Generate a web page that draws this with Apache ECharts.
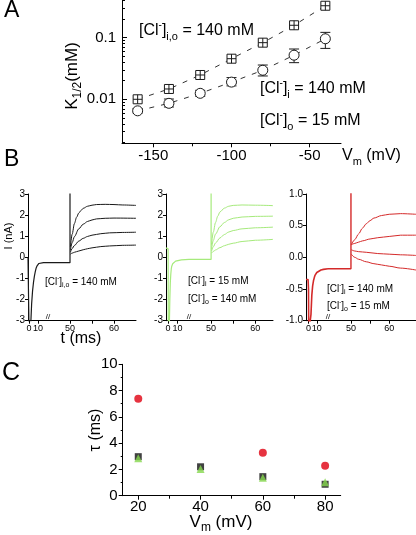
<!DOCTYPE html>
<html><head><meta charset="utf-8">
<script src="https://cdn.jsdelivr.net/npm/echarts@6/dist/echarts.min.js"></script>
<style>html,body{margin:0;padding:0;background:#fff}#c{width:416px;height:535px}</style>
</head><body><div id="c"></div>
<script>
// ---------- Panel A data ----------
const vmA = [-160, -140, -120, -100, -80, -60, -40];
const kSym = [0.0100, 0.0147, 0.0248, 0.0456, 0.083, 0.159, 0.33];      // [Cl-]i,o = 140 mM
const kAsym = [0.0065, 0.0086, 0.0125, 0.019, 0.0296, 0.052, 0.096];     // [Cl-]i = 140, [Cl-]o = 15
const kAsymLow = [0.0060, 0.0075, 0.0112, 0.0165, 0.0239, 0.0393, 0.067];
const kAsymHigh = [0.0071, 0.0101, 0.0140, 0.0225, 0.0360, 0.0655, 0.122];
const aXTicks = [-150, -100, -50];
const aXMinor = [-125, -75];
const aYTicks = [0.01, 0.1];
const aYMinor = [0.002, 0.003, 0.004, 0.005, 0.006, 0.007, 0.008, 0.009, 0.02, 0.03, 0.04, 0.05, 0.06, 0.07, 0.08, 0.09, 0.2, 0.3, 0.4];

// ---------- Panel B data (t ms, I nA) ----------
const blackSeg1 = [[-1,0],[0,0],[0.3,-4],[2,-3.2],[3,-2.2],[4,-1.6],[5,-1.2],[6,-0.9],[7,-0.68],[8,-0.5],[9,-0.4],[10,-0.33],[11,-0.29],[13,-0.26],[16,-0.25],[21,-0.25]];
const blackPre = [[45,-0.25],[50,-0.25],[50,3.3]];
const blackStep1 = [[50.1,0.5],[50.5,1.1],[51,1.6],[51.5,1.9],[52,2.1],[52.5,2.22],[53,2.32],[54,2.42],[55,2.47],[56,2.5],[58,2.51],[60,2.5],[62,2.48],[65,2.46]];
const blackStep2 = [[50.1,0.35],[50.5,0.7],[51,0.98],[52,1.35],[53,1.57],[54,1.7],[55,1.77],[56,1.82],[58,1.85],[60,1.86],[65,1.85]];
const blackStep3 = [[50.1,0.25],[50.5,0.42],[51,0.56],[52,0.77],[53,0.9],[54,0.99],[55,1.05],[57,1.12],[59,1.16],[62,1.18],[65,1.19]];
const blackStep4 = [[50.1,0.15],[50.5,0.2],[51,0.24],[52,0.3],[53,0.36],[54,0.41],[55,0.45],[57,0.51],[59,0.54],[62,0.57],[65,0.58]];

const greenSeg1 = [[-2,0.45],[0,0.45],[0.2,0.4],[0.4,-4],[1.5,-3.2],[2,-2],[2.5,-1.2],[3,-0.8],[3.5,-0.55],[4,-0.42],[5,-0.3],[6,-0.24],[8,-0.18],[10,-0.15],[14,-0.12],[22,-0.1]];
const greenPre = [[45,-0.1],[50,-0.1],[50,3.3]];
const greenStep1 = [[50.1,0.6],[50.5,1.2],[51,1.65],[51.5,1.95],[52,2.15],[53,2.33],[54,2.42],[55,2.46],[57,2.48],[60,2.47],[64,2.45]];
const greenStep2 = [[50.1,0.4],[50.5,0.8],[51,1.1],[52,1.45],[53,1.65],[54,1.78],[55,1.85],[57,1.91],[60,1.94],[64,1.95]];
const greenStep3 = [[50.1,0.3],[50.5,0.5],[51,0.68],[52,0.92],[53,1.08],[54,1.2],[55,1.27],[57,1.35],[60,1.4],[64,1.43]];
const greenStep4 = [[50.1,0.2],[50.5,0.28],[51,0.35],[52,0.46],[53,0.55],[54,0.62],[55,0.67],[57,0.75],[60,0.81],[64,0.85]];

const redSeg1 = [[-3,-0.35],[-0.5,-0.35],[0,-0.5],[0.3,-1.2],[2,-1.2],[3,-0.9],[4,-0.6],[5,-0.45],[6,-0.37],[7,-0.32],[8,-0.28],[10,-0.24],[12,-0.22],[15,-0.2],[18,-0.19],[23.5,-0.18]];
const redPre = [[44,-0.18],[50,-0.18],[50,1.1]];
const redStep1 = [[50.1,0.2],[51,0.28],[52,0.37],[53,0.46],[54,0.53],[55,0.58],[56,0.62],[58,0.66],[60,0.68],[63,0.69],[67,0.68]];
const redStep2 = [[50.1,0.2],[51,0.22],[52,0.24],[53,0.26],[55,0.29],[57,0.31],[60,0.33],[63,0.35],[67,0.35]];
const redStep3 = [[50.1,0.12],[51,0.1],[52,0.09],[54,0.08],[57,0.06],[60,0.05],[63,0.04],[67,0.03]];
const redStep4 = [[50.1,0.05],[51,0.0],[52,-0.03],[54,-0.07],[56,-0.1],[58,-0.12],[60,-0.14],[63,-0.17],[67,-0.2]];

const bSeg1Ticks = [0, 10];
const bSeg2Ticks = [50, 55, 60];
const bSeg2Labels = [50, 60];

// ---------- Panel C data ----------
const vmC = [20, 40, 60, 80];
const tauRed = [7.38, null, 3.27, 2.28];
const tauBlack = [2.97, 2.2, 1.45, 0.87];
const tauGreen = [2.85, 2.03, 1.37, 1.02];
const cXTicks = [20, 40, 60, 80];
const cXMinor = [30, 50, 70];

// ---------- styling ----------
const FONT = 'Liberation Sans, Arial, Helvetica, sans-serif';
const BLACK = '#1a1a1a', GREEN = '#a6ea7c', RED = '#d42a2a';

function pairs(xs, ys) { return xs.map((x, i) => [x, ys[i]]).filter(p => p[1] != null); }

function xAx(grid, min, max, ticks, labels, opt) {
  return Object.assign({
    gridIndex: grid, type: 'value', min: min, max: max, position: 'bottom',
    axisLine: { show: true, onZero: false, lineStyle: { color: '#000', width: 1 } },
    axisTick: { show: true, customValues: ticks, length: 3, lineStyle: { color: '#000' } },
    axisLabel: labels ? { show: true, customValues: labels, color: '#000', fontFamily: FONT, fontSize: 9, margin: 3 } : { show: false },
    splitLine: { show: false }
  }, opt || {});
}
function yB(grid, min, max, interval, fmt) {
  return {
    gridIndex: grid, type: 'value', min: min, max: max, interval: interval, position: 'left',
    axisLine: { show: true, onZero: false, lineStyle: { color: '#000' } },
    axisTick: { show: true, length: 3, lineStyle: { color: '#000' } },
    axisLabel: { color: '#000', fontFamily: FONT, fontSize: 10, margin: 3, formatter: fmt },
    splitLine: { show: false }
  };
}
function yHidden(grid, min, max) {
  return { gridIndex: grid, type: 'value', min: min, max: max, show: false, splitLine: { show: false } };
}
function trace(xi, data, color, w, smooth) {
  return { type: 'line', xAxisIndex: xi, yAxisIndex: xi, data: data, symbol: 'none', showSymbol: false,
    clip: true, smooth: smooth ? 0.3 : false, smoothMonotone: 'x',
    lineStyle: { color: color, width: w || 1 }, z: 3, silent: true };
}

function rich(size) {
  return {
    sup: { fontSize: Math.round(size * 0.62), lineHeight: Math.round(size * 0.6), verticalAlign: 'top', fontFamily: FONT, fill: '#000' },
    sub: { fontSize: Math.round(size * 0.7), lineHeight: Math.round(size * 0.6), verticalAlign: 'bottom', fontFamily: FONT, fill: '#000' }
  };
}
function txt(x, y, text, size, align, rot) {
  return { type: 'text', x: x, y: y, rotation: rot || 0, z: 100,
    style: { text: text, fill: '#000', fontSize: size, fontFamily: FONT, lineHeight: Math.round(size * 1.35),
      align: align || 'left', verticalAlign: 'middle', rich: rich(size) } };
}

const errBarA = {
  type: 'custom', xAxisIndex: 0, yAxisIndex: 0, z: 1, silent: true,
  data: vmA.map((v, i) => [v, kAsymLow[i], kAsymHigh[i]]),
  encode: { x: 0, y: [1, 2] },
  renderItem: function (params, api) {
    const x = api.value(0);
    const lo = api.coord([x, api.value(1)]);
    const hi = api.coord([x, api.value(2)]);
    const h = 5;
    const st = { stroke: BLACK, lineWidth: 1 };
    return { type: 'group', children: [
      { type: 'line', shape: { x1: lo[0], y1: lo[1], x2: hi[0], y2: hi[1] }, style: st },
      { type: 'line', shape: { x1: lo[0] - h, y1: lo[1], x2: lo[0] + h, y2: lo[1] }, style: st },
      { type: 'line', shape: { x1: hi[0] - h, y1: hi[1], x2: hi[0] + h, y2: hi[1] }, style: st }
    ] };
  }
};

const option = {
  animation: false,
  backgroundColor: '#fff',
  grid: [
    { left: 122, top: 0, width: 219, height: 143.3 },           // 0 A
    { left: 28, top: 194, width: 20, height: 126.7 },           // 1 B left seg1
    { left: 48, top: 194, width: 88, height: 126.7 },           // 2 B left seg2
    { left: 166, top: 194, width: 23, height: 126.7 },          // 3 B mid seg1
    { left: 189, top: 194, width: 84, height: 126.7 },          // 4 B mid seg2
    { left: 306, top: 194, width: 22, height: 126.7 },          // 5 B right seg1
    { left: 328, top: 194, width: 88, height: 126.7 },          // 6 B right seg2
    { left: 122.7, top: 364.3, width: 218, height: 131.4 }      // 7 C
  ],
  xAxis: [
    xAx(0, -170, -30, aXTicks, aXTicks, { axisTick: { show: true, customValues: aXTicks, length: 4, lineStyle: { color: '#000' } },
      axisLabel: { customValues: aXTicks, color: '#000', fontFamily: FONT, fontSize: 15, margin: 5 } }),
    xAx(0, -170, -30, aXMinor, null, { axisLine: { show: false, onZero: false } }),
    xAx(1, -1, 21, bSeg1Ticks, bSeg1Ticks),
    xAx(2, 45, 65, bSeg2Ticks, bSeg2Labels),
    xAx(3, -2, 22, bSeg1Ticks, bSeg1Ticks),
    xAx(4, 45, 64, bSeg2Ticks, bSeg2Labels),
    xAx(5, -3, 23.5, bSeg1Ticks, bSeg1Ticks),
    xAx(6, 44, 67, bSeg2Ticks, bSeg2Labels),
    xAx(7, 15, 85, cXTicks, cXTicks, { axisTick: { show: true, customValues: cXTicks, length: 4, lineStyle: { color: '#000' } },
      axisLabel: { customValues: cXTicks, color: '#000', fontFamily: FONT, fontSize: 15, margin: 4 } }),
    xAx(7, 15, 85, cXMinor, null, { axisLine: { show: false, onZero: false } })
  ],
  yAxis: [
    { gridIndex: 0, type: 'log', logBase: 10, min: 0.00193, max: 0.409, position: 'left',
      axisLine: { show: true, onZero: false, lineStyle: { color: '#000' } },
      axisTick: { show: true, inside: true, length: 5, customValues: aYTicks, lineStyle: { color: '#000' } },
      axisLabel: { customValues: aYTicks, color: '#000', fontFamily: FONT, fontSize: 15, margin: 6, formatter: v => String(v) },
      splitLine: { show: false }, minorTick: { show: false } },
    { gridIndex: 0, type: 'log', logBase: 10, min: 0.00193, max: 0.409, position: 'left',
      axisLine: { show: false, onZero: false },
      axisTick: { show: true, inside: true, length: 3, customValues: aYMinor, lineStyle: { color: '#000' } },
      axisLabel: { show: false }, splitLine: { show: false } },
    yB(1, -3, 3, 1),
    yHidden(2, -3, 3),
    yB(3, -3, 3, 1),
    yHidden(4, -3, 3),
    yB(5, -1, 1, 0.5, v => v.toFixed(1)),
    yHidden(6, -1, 1),
    { gridIndex: 7, type: 'value', min: 0, max: 10, interval: 2, position: 'left',
      axisLine: { show: true, onZero: false, lineStyle: { color: '#000' } },
      axisTick: { show: true, length: 4, lineStyle: { color: '#000' } },
      minorTick: { show: true, splitNumber: 2, length: 2, lineStyle: { color: '#000' } },
      axisLabel: { color: '#000', fontFamily: FONT, fontSize: 15, margin: 5 },
      splitLine: { show: false } }
  ],
  series: [
    errBarA,
    { type: 'line', xAxisIndex: 0, yAxisIndex: 0, data: pairs(vmA, kSym), z: 2,
      symbol: 'path://M0,0H10V10H0Z M5,0V10 M0,5H10', symbolSize: 9,
      itemStyle: { color: '#fff', borderColor: BLACK, borderWidth: 1 },
      lineStyle: { color: '#333', width: 1, type: [5, 7] } },
    { type: 'line', xAxisIndex: 0, yAxisIndex: 0, data: pairs(vmA, kAsym), z: 2,
      symbol: 'circle', symbolSize: 10,
      itemStyle: { color: '#fff', borderColor: BLACK, borderWidth: 1 },
      lineStyle: { color: '#333', width: 1, type: [5, 7] } },

    trace(2, blackSeg1, BLACK, 1.2),
    trace(3, blackPre, BLACK, 1.2),
    trace(3, blackStep1, BLACK, 1, true), trace(3, blackStep2, BLACK, 1, true),
    trace(3, blackStep3, BLACK, 1, true), trace(3, blackStep4, BLACK, 1, true),

    trace(4, greenSeg1, GREEN, 1.2),
    trace(5, greenPre, GREEN, 1.2),
    trace(5, greenStep1, GREEN, 1, true), trace(5, greenStep2, GREEN, 1, true),
    trace(5, greenStep3, GREEN, 1, true), trace(5, greenStep4, GREEN, 1, true),

    trace(6, redSeg1, RED, 1.6),
    trace(7, redPre, RED, 1.4),
    trace(7, redStep1, RED, 1, true), trace(7, redStep2, RED, 1, true),
    trace(7, redStep3, RED, 1, true), trace(7, redStep4, RED, 1, true),

    { type: 'scatter', xAxisIndex: 8, yAxisIndex: 8, data: pairs(vmC, tauBlack), symbol: 'rect', symbolSize: 7,
      itemStyle: { color: '#111' }, z: 3 },
    { type: 'scatter', xAxisIndex: 8, yAxisIndex: 8, data: pairs(vmC, tauGreen), symbol: 'triangle', symbolSize: 8,
      itemStyle: { color: '#86d84e' }, z: 4 },
    { type: 'scatter', xAxisIndex: 8, yAxisIndex: 8, data: pairs(vmC, tauRed), symbol: 'circle', symbolSize: 8,
      itemStyle: { color: '#e00010' }, z: 5 }
  ],
  graphic: [
    txt(4, 11, 'A', 23),
    txt(4, 160, 'B', 23),
    txt(2, 373, 'C', 25),
    // Panel A texts
    txt(139, 31, '[Cl{sup|-}]{sub|i,o} = 140 mM', 16),
    txt(260, 89, '[Cl{sup|-}]{sub|i} = 140 mM', 16),
    txt(260, 121, '[Cl{sup|-}]{sub|o} = 15 mM', 16),
    txt(72, 76, 'K{sub|1/2}(mM)', 17, 'center', Math.PI / 2),
    txt(342, 156, 'V{sub|m} (mV)', 16),
    // Panel B texts
    txt(9, 236, 'I (nA)', 11, 'center', Math.PI / 2),
    txt(81, 339, 't (ms)', 16, 'center'),
    txt(45, 282, '[Cl{sup|-}]{sub|i,o} = 140 mM', 10),
    txt(188, 281, '[Cl{sup|-}]{sub|i} = 15 mM', 10),
    txt(188, 299, '[Cl{sup|-}]{sub|o} = 140 mM', 10),
    txt(327, 289, '[Cl{sup|-}]{sub|i} = 140 mM', 10),
    txt(327, 306, '[Cl{sup|-}]{sub|o} = 15 mM', 10),
    txt(48, 317, '//', 8, 'center'),
    txt(189, 317, '//', 8, 'center'),
    txt(328, 317, '//', 8, 'center'),
    // Panel C texts
    txt(96, 430, 'τ (ms)', 16, 'center', Math.PI / 2),
    txt(221, 522, 'V{sub|m} (mV)', 17, 'center')
  ]
};

const chart = echarts.init(document.getElementById('c'), null, { renderer: 'canvas' });
chart.setOption(option);
</script>
</body></html>
